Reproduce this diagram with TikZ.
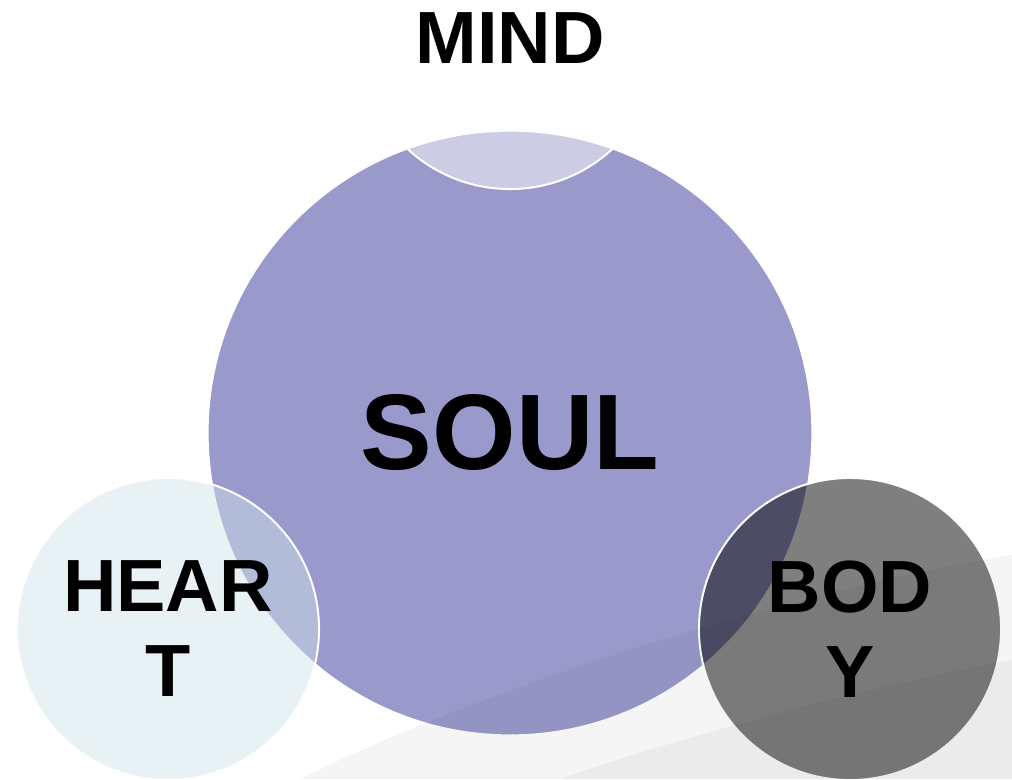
\documentclass[tikz,border=0pt]{standalone}
\usepackage{fontspec}
\setmainfont{Liberation Sans}
\usetikzlibrary{positioning}

\definecolor{soulpurple}{RGB}{153,153,204}
\definecolor{heartcyan}{RGB}{207,228,232}

\begin{document}
\begin{tikzpicture}[
    x=0.025cm, y=-0.025cm,
    bigcirc/.style={circle, draw=white, line width=1pt, fill=soulpurple,
                    minimum size=15.1cm, inner sep=0pt,
                    font=\fontsize{76.4}{90}\selectfont\bfseries},
    smallcirc/.style={circle, draw=white, line width=1.4pt, minimum size=7.55cm,
                      inner sep=0pt, align=center,
                      font=\fontsize{52.6}{60.4}\selectfont\bfseries},
    swoosh/.style={fill=black, fill opacity=0.04, draw=none},
]
    \useasboundingbox (0,0) rectangle (1012,779);

    %==================== SOUL ====================
    \node[bigcirc] (soul) at (510,433) {SOUL};

    %==================== MIND ====================
    \node[smallcirc, fill=white, fill opacity=0.5, text opacity=1] (mind) at (510,38) {MIND};

    %==================== HEART ====================
    \node[smallcirc, fill=heartcyan, fill opacity=0.48, text opacity=1] (heart) at (168,629)
        {HEAR\\T};

    %==================== BODY ====================
    \node[smallcirc, fill=black, fill opacity=0.5, text opacity=1] (body) at (850,629)
        {BOD\\Y};

    %==================== background swooshes ====================
    \fill[swoosh] (300,779) .. controls (500,680) and (800,590) .. (1012,555)
        -- (1012,779) -- cycle;
    \fill[swoosh] (560,779) .. controls (700,730) and (900,680) .. (1012,660)
        -- (1012,779) -- cycle;

\end{tikzpicture}
\end{document}
